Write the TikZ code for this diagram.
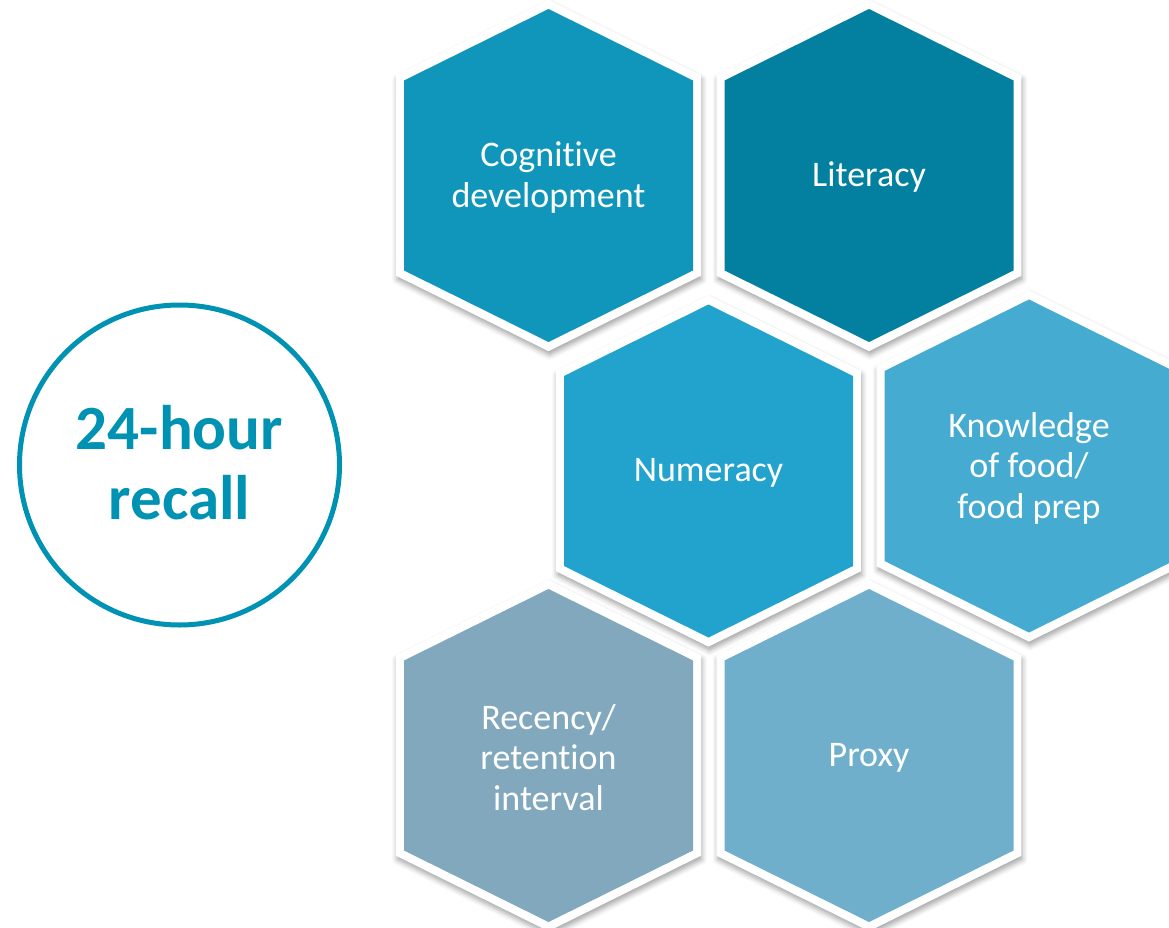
\documentclass[tikz,border=0pt]{standalone}
\usepackage{fontspec}
\setmainfont{Carlito}[Ligatures=NoCommon]
\usetikzlibrary{shadows.blur}

\definecolor{cogblue}{RGB}{16,150,187}
\definecolor{litblue}{RGB}{3,128,160}
\definecolor{numblue}{RGB}{34,163,206}
\definecolor{knowblue}{RGB}{69,171,209}
\definecolor{recgrey}{RGB}{129,168,188}
\definecolor{proxblue}{RGB}{111,175,204}
\definecolor{recallteal}{RGB}{0,146,178}

\tikzset{
  hexlabel/.style={text=white, align=center, font=\fontsize{36}{40.5}\selectfont},
  hexrim/.style={fill=white, blur shadow={shadow xshift=1pt, shadow yshift=-4pt, shadow blur radius=5pt, shadow opacity=35}},
}

\begin{document}
\begin{tikzpicture}[x=1pt, y=-1pt]
  \useasboundingbox (0,0) rectangle (1169,928);

  % Recall circle
  \node[circle, draw=recallteal, line width=5pt, minimum size=320pt, inner sep=0pt] (recall) at (179.5,465) {};
  \node[text=recallteal, align=center, font=\bfseries\fontsize{63}{70}\selectfont] (recalltxt) at (179.5,463) {24-hour\\recall};

  % Hexagons: name/x/y/colour/text
  \foreach \name/\cx/\cy/\col/\txt in {
      cog/548.5/175.5/cogblue/{Cognitive\\development},
      lit/869/175.5/litblue/{Literacy},
      num/708.5/471/numblue/{Numeracy},
      know/1029/466/knowblue/{Knowledge\\of food/\\food prep},
      rec/548.5/755.5/recgrey/{Recency/\\retention\\interval},
      prox/869/755.5/proxblue/{Proxy}}{
    \fill[hexrim, shift={(\cx,\cy)}, scale=1.055] (0,-166.5) -- (144.5,-95) -- (144.5,95) -- (0,166.5) -- (-144.5,95) -- (-144.5,-95) -- cycle; % white rim
    \fill[\col, shift={(\cx,\cy)}] (0,-166.5) -- (144.5,-95) -- (144.5,95) -- (0,166.5) -- (-144.5,95) -- (-144.5,-95) -- cycle;
    \node[hexlabel] (\name) at (\cx,\cy+2) {\txt};
  }
\end{tikzpicture}
\end{document}
